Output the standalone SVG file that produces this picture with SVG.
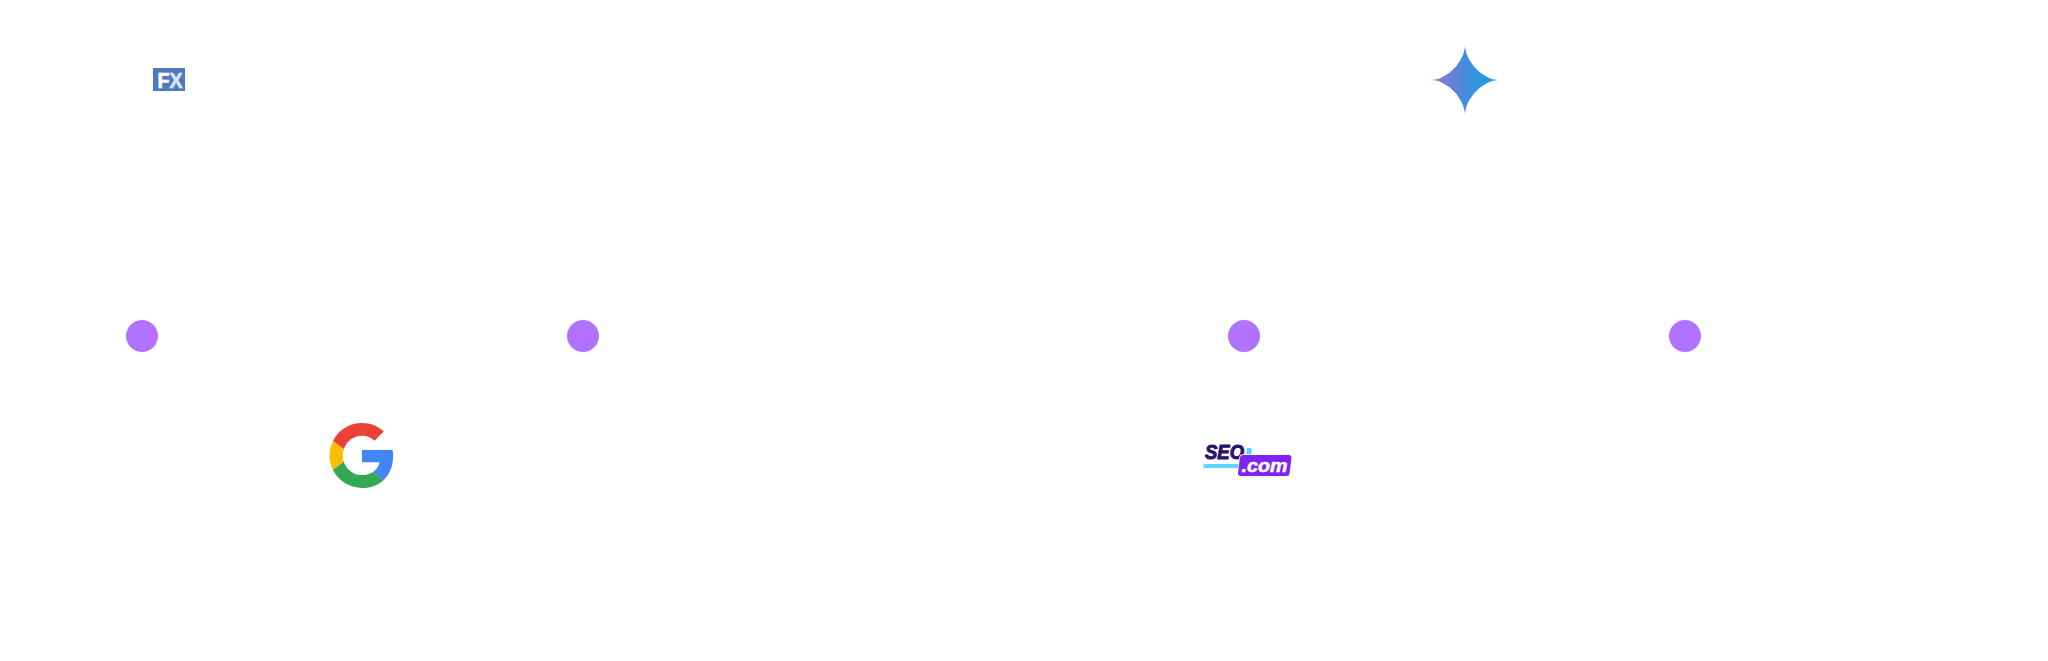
<svg xmlns="http://www.w3.org/2000/svg" width="2048" height="661" viewBox="0 0 2048 661">
<style>
.dot{fill:#b072ff}
.logo{font-family:"Liberation Sans",Arial,sans-serif;font-weight:700}
</style>
<defs>
<linearGradient id="star" x1="0" y1="0" x2="1" y2="0"><stop offset="0" stop-color="#9b72cb"/><stop offset="0.5" stop-color="#4889dc"/><stop offset="0.85" stop-color="#1ba1e3"/></linearGradient>
</defs>
<rect id="background" width="2048" height="661" fill="#ffffff"/>
<g id="logo-fx">
<rect x="153" y="68" width="32" height="23" fill="#4f78bf"/>
<text class="logo" x="157.500" y="87.500" font-size="22" fill="#ffffff" stroke="#ffffff" stroke-width=".7" textLength="25" lengthAdjust="spacingAndGlyphs">F<tspan fill="#d8e6ef" stroke="#d8e6ef">X</tspan></text>
</g>
<g id="logo-star">
<path d="M1465 45C1465 61 1447 80 1431 80C1447 80 1465 99 1465 115C1465 99 1483 80 1499 80C1483 80 1465 61 1465 45Z" fill="url(#star)"/>
</g>
<g id="dot-1"><circle class="dot" cx="142" cy="336" r="16"/></g>
<g id="dot-2"><circle class="dot" cx="583" cy="336" r="16"/></g>
<g id="dot-3"><circle class="dot" cx="1244" cy="336" r="16"/></g>
<g id="dot-4"><circle class="dot" cx="1685" cy="336" r="16"/></g>
<g id="logo-google" transform="translate(329.500 423) scale(1.354)">
<path fill="#ea4335" d="M24 9.500c3.540 0 6.710 1.220 9.210 3.600l6.850-6.850C35.900 2.380 30.470 0 24 0 14.620 0 6.510 5.380 2.560 13.220l7.980 6.190C12.430 13.720 17.740 9.500 24 9.500z"/>
<path fill="#4285f4" d="M46.980 24.550c0-1.570-.15-3.090-.38-4.550H24v9.020h12.940c-.58 2.960-2.260 5.480-4.780 7.180l7.730 6c4.510-4.180 7.090-10.360 7.090-17.650z"/>
<path fill="#fbbc05" d="M10.530 28.590c-.48-1.450-.76-2.990-.76-4.590s.27-3.140.76-4.590l-7.980-6.190C.92 16.460 0 20.120 0 24c0 3.880.92 7.540 2.560 10.780l7.970-6.190z"/>
<path fill="#34a853" d="M24 48c6.480 0 11.930-2.130 15.890-5.810l-7.730-6c-2.150 1.450-4.920 2.300-8.160 2.300-6.260 0-11.570-4.220-13.470-9.910l-7.980 6.190C6.510 42.620 14.620 48 24 48z"/>
</g>
<g id="logo-seo">
<rect x="1203" y="464" width="42" height="4" rx="2" fill="#5fd4fa"/>
<path d="M1247 448h3a2 2 0 0 1 2 2l-1 7h-5z" fill="#5fd4fa"/>
<text class="logo" x="1205" y="458.500" font-size="20" font-style="italic" fill="#2d1165" stroke="#2d1165" stroke-width="1" textLength="39" lengthAdjust="spacingAndGlyphs">SEO</text>
<path d="M1243 455h46a2.500 2.500 0 0 1 2.500 3l-2 15.500a3 3 0 0 1-3 2.500h-46a2.500 2.500 0 0 1-2.500-3l2-15.500a3 3 0 0 1 3-2.500z" fill="#7f22f5" stroke="#ffffff" stroke-width="1.500" paint-order="stroke"/>
<text class="logo" x="1241.500" y="472" font-size="19" font-style="italic" fill="#ffffff" stroke="#ffffff" stroke-width=".5" textLength="46" lengthAdjust="spacingAndGlyphs">.com</text>
</g>
<g id="connectors"/>
</svg>
